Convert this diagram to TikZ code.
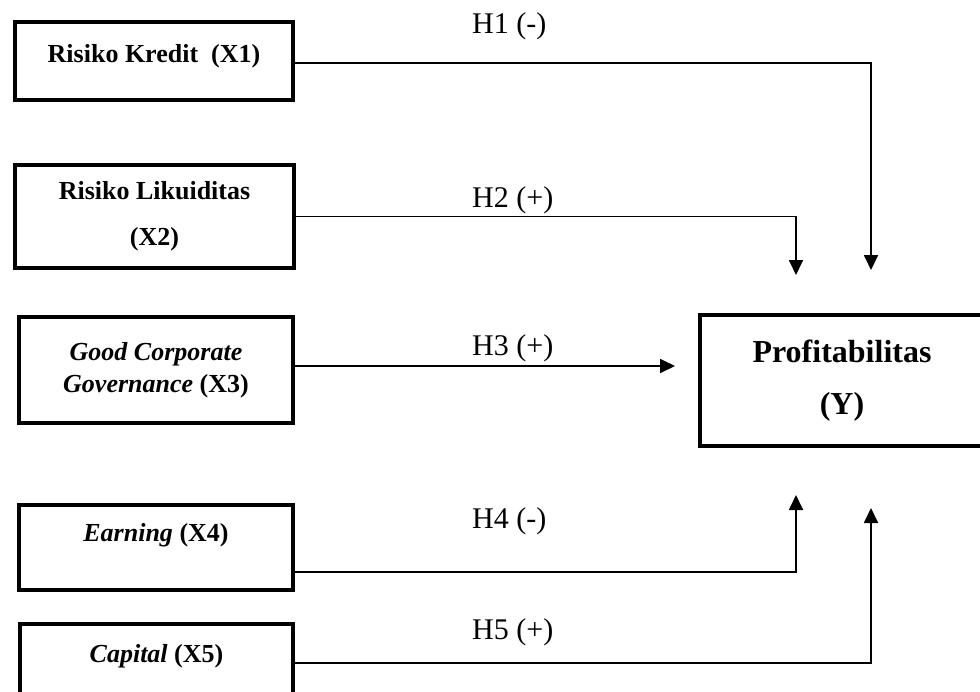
\documentclass[tikz,border=0pt]{standalone}
\usepackage{fontspec}
\setmainfont{Liberation Serif}
\usetikzlibrary{arrows.meta}

\begin{document}
\begin{tikzpicture}[
  x=1pt, y=-1pt,
  varbox/.style={
    draw,
    line width=4pt,
    align=center,
    inner sep=0pt,
    font=\fontsize{26}{46}\selectfont\bfseries
  },
  depbox/.style={varbox, font=\fontsize{32}{52}\selectfont\bfseries},
  hyp/.style={anchor=west, inner sep=0pt, font=\fontsize{30}{36}\selectfont},
  arrow/.style={-{Triangle[length=15pt,width=14pt]}, line width=1.8pt}
]
\useasboundingbox (0,0) rectangle (980,691);
\clip (0,0) rectangle (980,691);

\node[varbox, minimum width=278pt, minimum height=78pt, text depth=16pt] (kredit) at (154,61) {Risiko Kredit~~(X1)};
\node[varbox, minimum width=279pt, minimum height=103pt] (likuid) at (154.5,216.5) {Risiko Likuiditas\\(X2)};
\node[varbox, minimum width=274pt, minimum height=106pt, font=\fontsize{26}{32}\selectfont\bfseries] (gcg) at (156,370) {\textit{Good Corporate}\\\textit{Governance} (X3)};
\node[varbox, minimum width=274pt, minimum height=85pt, text depth=30pt] (earning) at (156,547.5) {\textit{Earning} (X4)};
\node[varbox, minimum width=273pt, minimum height=86pt, text depth=28pt] (capital) at (156.5,667) {\textit{Capital} (X5)};

\node[depbox, minimum width=284pt, minimum height=131pt] (profit) at (842,380.5) {Profitabilitas\\(Y)};

% turning points and arrow tips
\coordinate (likuidend) at (796,275);
\coordinate (kreditend) at (871,270);
\coordinate (gcgend) at (675,366);
\coordinate (earningturn) at (796,572);
\coordinate (earningend) at (796,495);
\coordinate (capitalturn) at (871,663);
\coordinate (capitalend) at (871,508);

\draw[arrow] (kredit.east |- 0,63) -| (kreditend);
\draw[arrow] (likuid.east) -| (likuidend);
\draw[arrow] (gcg.east |- gcgend) -- (gcgend);
\draw[arrow] (earning.east |- earningturn) -- (earningturn) -- (earningend);
\draw[arrow] (capital.east |- capitalturn) -- (capitalturn) -- (capitalend);

\node[hyp] (hone) at (472,26) {H1 (-)};
\node[hyp] (htwo) at (472,200) {H2 (+)};
\node[hyp] (hthree) at (472,348) {H3 (+)};
\node[hyp] (hfour) at (472,521) {H4 (-)};
\node[hyp] (hfive) at (472,632) {H5 (+)};
\end{tikzpicture}
\end{document}
